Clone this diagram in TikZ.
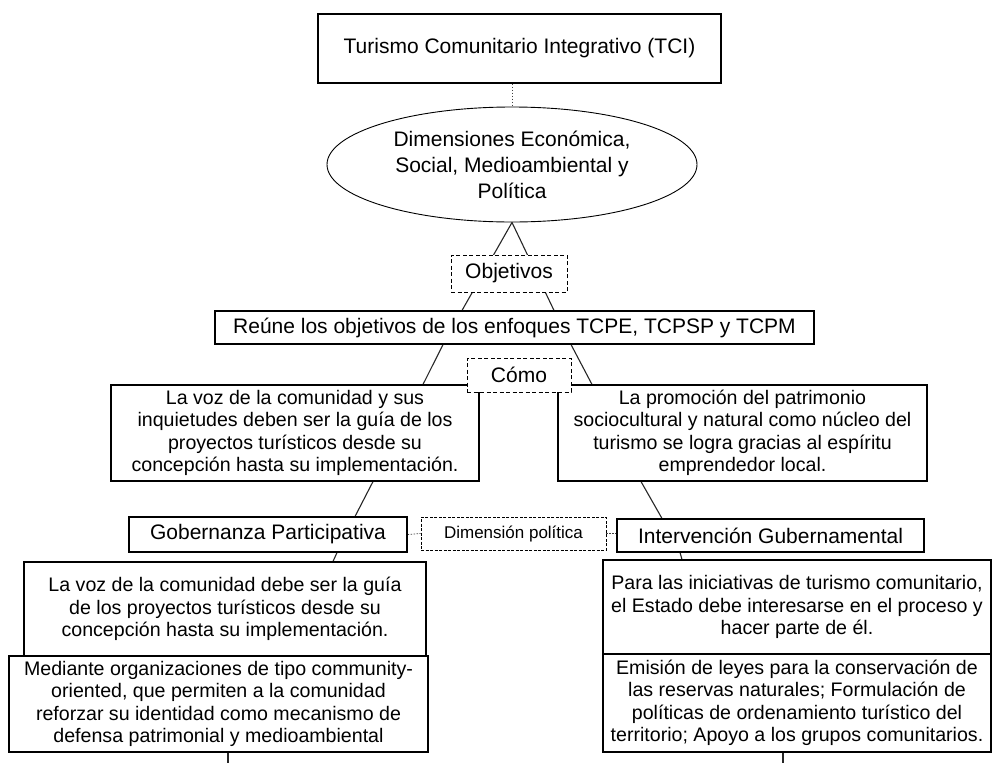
\documentclass[tikz,border=0pt]{standalone}
\usepackage{fontspec}
\setmainfont{Liberation Sans}
\usetikzlibrary{calc,shapes.geometric,backgrounds}

\tikzset{
  caja/.style={draw, line width=1.1pt, fill=white, inner sep=0pt, align=center, font=\fontsize{21}{26}\selectfont},
  cajatxt/.style={caja, font=\fontsize{19.6}{22.5}\selectfont},
  guion/.style={caja, line width=0.9pt, dash pattern=on 4pt off 2.5pt},
  enlace/.style={line width=1.1pt, draw=black!85},
  punteado/.style={line width=0.8pt, draw=black!75, dash pattern=on 1.5pt off 1.5pt}
}

\begin{document}
\begin{tikzpicture}[x=1pt, y=-1pt]
		%%%%% START %%%%%
		\useasboundingbox (0,0) rectangle (992,763);
		
		\node[caja, minimum width=403pt, minimum height=69pt] (tci) at (519.5,48.5) {Turismo Comunitario Integrativo (TCI)};
		\node[caja, ellipse, line width=0.9pt, minimum width=370pt, minimum height=115pt] (dims) at (512,164.5) {Dimensiones Económica,\\ Social, Medioambiental y\\ Política};
		
		\node[guion, minimum width=116pt, minimum height=37pt] (obj) at (509,273.5) {Objetivos};
		\node[caja, minimum width=599pt, minimum height=33pt] (reune) at (514.5,327.5) {Reúne los objetivos de los enfoques TCPE, TCPSP y TCPM};
		
		\node[cajatxt, minimum width=368pt, minimum height=96pt] (vozcom) at (295,433) {La voz de la comunidad y sus\\ inquietudes deben ser la guía de los\\ proyectos turísticos desde su\\ concepción hasta su implementación.};
		\node[cajatxt, minimum width=369pt, minimum height=96pt] (promo) at (742.5,433) {La promoción del patrimonio\\ sociocultural y natural como núcleo del\\ turismo se logra gracias al espíritu\\ emprendedor local.};
		\node[guion, minimum width=104pt, minimum height=34pt] (como) at (519,375) {Cómo};
		
		\node[caja, minimum width=278pt, minimum height=35pt] (gob) at (268,534.5) {Gobernanza Participativa};
		\node[guion, dash pattern=on 3pt off 1.5pt, minimum width=185pt, minimum height=33pt, font=\fontsize{17}{20}\selectfont] (dimpol) at (513.5,533.5) {Dimensión política};
		\node[caja, minimum width=307pt, minimum height=33pt] (interv) at (770.5,535.5) {Intervención Gubernamental};
		
		\node[cajatxt, minimum width=402pt, minimum height=94pt] (vozguia) at (225,609) {La voz de la comunidad debe ser la guía\\ de los proyectos turísticos desde su\\ concepción hasta su implementación.};
		\node[cajatxt, minimum width=419pt, minimum height=96pt] (organiz) at (218.5,704) {Mediante organizaciones de tipo community-\\ oriented, que permiten a la comunidad\\ reforzar su identidad como mecanismo de\\ defensa patrimonial y medioambiental};
		
		\node[cajatxt, minimum width=388pt, minimum height=94pt] (estado) at (797,607) {Para las iniciativas de turismo comunitario,\\ el Estado debe interesarse en el proceso y\\ hacer parte de él.};
		\node[cajatxt, minimum width=388pt, minimum height=98pt] (leyes) at (797,703) {Emisión de leyes para la conservación de\\ las reservas naturales; Formulación de\\ políticas de ordenamiento turístico del\\ territorio; Apoyo a los grupos comunitarios.};
		
		\coordinate (salidaizq) at (228,763);
		\coordinate (salidader) at (783,763);
		
		\begin{pgfonlayer}{background}
		\draw[punteado] (dims.north |- tci.south) -- (dims.north);
		
		\draw[enlace] ($(reune.north)+(-52.5,0)$) -- (dims.south) -- ($(reune.north)+(39.5,0)$);
		
		\draw[enlace] ($(reune.south)+(-71.5,0)$) -- ($(vozcom.north)+(128,0)$);
		\draw[enlace] ($(reune.south)+(56.5,0)$) -- ($(promo.north)+(-150.5,0)$);
		
		\draw[enlace] ($(vozcom.south)+(78,0)$) -- ($(gob.north)+(87,0)$);
		\draw[enlace] ($(promo.south)+(-101.5,0)$) -- ($(interv.north)+(-108.5,0)$);
		
		\draw[punteado] (gob.east) -- (dimpol.west);
		\draw[punteado] (dimpol.east) -- (dimpol.east -| interv.west);
		
		\draw[enlace] ($(gob.south)+(69,0)$) -- ($(vozguia.north)+(108,0)$);
		\draw[enlace] ($(interv.south)+(-90.5,0)$) -- ($(estado.north)+(-115,0)$);
		
		\draw[enlace] (organiz.south -| salidaizq) -- (salidaizq);
		\draw[enlace] (leyes.south -| salidader) -- (salidader);
		\end{pgfonlayer}
		
		%%%%% END %%%%%
\end{tikzpicture}
\end{document}
